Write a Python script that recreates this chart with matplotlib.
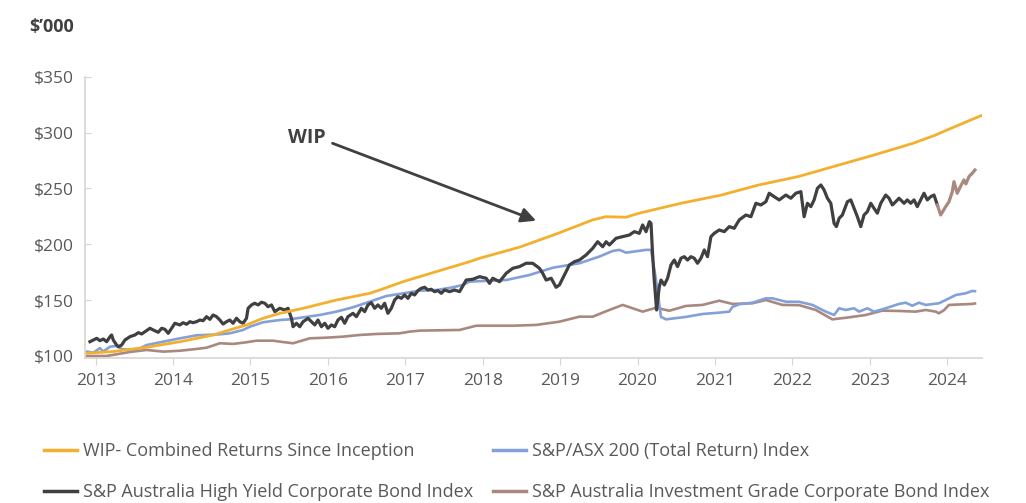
import matplotlib
matplotlib.use("Agg")
import matplotlib.pyplot as plt
from matplotlib.lines import Line2D

plt.rcParams['font.family'] = ['Open Sans', 'DejaVu Sans']

# WIP - combined returns since inception
wip_x = [2012.88, 2013.23, 2013.66, 2014.09, 2014.52, 2014.73, 2014.95, 2015.16, 2015.38,
         2015.68, 2016.11, 2016.54, 2016.67, 2016.97, 2017.40, 2017.83, 2017.96, 2018.48,
         2018.98, 2019.42, 2019.59, 2019.85, 2020.02, 2020.56, 2021.08, 2021.56, 2022.07,
         2023.06, 2023.56, 2023.84, 2024.05, 2024.45]
wip_y = [102.5, 104, 107.8, 112.8, 118.8, 123.3, 127.8, 133.7, 138.2,
         142.7, 150.1, 156.1, 159.1, 166.5, 175.5, 184.4, 187.5, 197.5,
         210, 221.8, 224.7, 224.2, 227.8, 236.7, 244, 253, 260.5,
         280, 290.4, 297.5, 303.8, 315.5]

# S&P/ASX 200 (Total Return) Index
asx_x = [2012.884, 2012.969, 2013.055, 2013.098, 2013.185, 2013.271, 2013.335, 2013.443, 2013.572,
         2013.658, 2013.872, 2014.088, 2014.303, 2014.604, 2014.733, 2014.904, 2014.991, 2015.163,
         2015.378, 2015.507, 2015.679, 2015.894, 2016.110, 2016.324, 2016.539, 2016.755, 2016.969,
         2017.185, 2017.401, 2017.614, 2017.743, 2017.830, 2017.959, 2018.303, 2018.604, 2018.905,
         2019.249, 2019.507, 2019.679, 2019.765, 2019.852, 2020.110, 2020.174, 2020.239, 2020.303,
         2020.368, 2020.626, 2020.840, 2021.055, 2021.185, 2021.227, 2021.314, 2021.485, 2021.658,
         2021.743, 2021.916, 2022.088, 2022.259, 2022.432, 2022.539, 2022.604, 2022.690, 2022.797,
         2022.862, 2022.969, 2023.055, 2023.206, 2023.378, 2023.464, 2023.550, 2023.636, 2023.723,
         2023.894, 2023.981, 2024.110, 2024.239, 2024.323, 2024.359]
asx_y = [103.9, 103, 107, 104, 108.3, 109, 106.3, 105.4, 106.9,
         109.8, 112.8, 115.8, 118.5, 119.4, 120.3, 123.3, 126.2, 130.2,
         132.2, 132.8, 134.6, 136.7, 139.7, 143.6, 148.6, 153.7, 156,
         158.5, 159, 161.5, 163.6, 166.5, 167, 168, 172.5, 179,
         183, 189, 194, 195, 192.5, 195, 195, 168, 135,
         132.8, 135, 137.6, 138.8, 139.7, 144, 146.3, 147.7, 151.6,
         151.6, 148.6, 148.5, 145.7, 139.7, 136.7, 142.7, 141.2, 142.7,
         139.7, 142.7, 139.7, 142.7, 146.6, 147.7, 145, 147.7, 145.7,
         147.2, 150.1, 154.6, 156.1, 158.2, 158]

# S&P Australia High Yield Corporate Bond Index
hy_x = [2012.926, 2012.969, 2013.013, 2013.055, 2013.098, 2013.142, 2013.185, 2013.206, 2013.227,
        2013.271, 2013.292, 2013.335, 2013.378, 2013.443, 2013.507, 2013.550, 2013.594, 2013.658,
        2013.701, 2013.743, 2013.808, 2013.852, 2013.894, 2013.937, 2013.981, 2014.023, 2014.088,
        2014.130, 2014.174, 2014.217, 2014.259, 2014.303, 2014.346, 2014.388, 2014.432, 2014.475,
        2014.517, 2014.561, 2014.604, 2014.646, 2014.690, 2014.733, 2014.775, 2014.819, 2014.862,
        2014.904, 2014.948, 2014.969, 2015.013, 2015.055, 2015.098, 2015.142, 2015.185, 2015.227,
        2015.271, 2015.314, 2015.378, 2015.443, 2015.485, 2015.529, 2015.550, 2015.594, 2015.636,
        2015.679, 2015.743, 2015.787, 2015.830, 2015.872, 2015.916, 2015.959, 2016.001, 2016.045,
        2016.088, 2016.130, 2016.174, 2016.217, 2016.259, 2016.324, 2016.368, 2016.432, 2016.475,
        2016.517, 2016.561, 2016.604, 2016.646, 2016.690, 2016.733, 2016.775, 2016.819, 2016.862,
        2016.904, 2016.948, 2016.991, 2017.034, 2017.077, 2017.120, 2017.163, 2017.206, 2017.249,
        2017.292, 2017.335, 2017.378, 2017.421, 2017.465, 2017.507, 2017.572, 2017.636, 2017.701,
        2017.787, 2017.872, 2017.959, 2018.045, 2018.088, 2018.130, 2018.217, 2018.303, 2018.388,
        2018.475, 2018.561, 2018.646, 2018.733, 2018.775, 2018.819, 2018.884, 2018.948, 2018.991,
        2019.055, 2019.120, 2019.185, 2019.249, 2019.335, 2019.421, 2019.485, 2019.550, 2019.594,
        2019.636, 2019.723, 2019.808, 2019.894, 2019.959, 2020.023, 2020.066, 2020.110, 2020.153,
        2020.174, 2020.194, 2020.216, 2020.246, 2020.281, 2020.303, 2020.346, 2020.388, 2020.432,
        2020.475, 2020.517, 2020.561, 2020.604, 2020.646, 2020.690, 2020.733, 2020.775, 2020.819,
        2020.862, 2020.904, 2020.948, 2020.991, 2021.055, 2021.120, 2021.185, 2021.249, 2021.314,
        2021.400, 2021.465, 2021.529, 2021.594, 2021.658, 2021.701, 2021.765, 2021.830, 2021.916,
        2021.981, 2022.045, 2022.110, 2022.130, 2022.152, 2022.195, 2022.239, 2022.281, 2022.324,
        2022.368, 2022.410, 2022.453, 2022.497, 2022.539, 2022.569, 2022.604, 2022.646, 2022.711,
        2022.755, 2022.797, 2022.840, 2022.884, 2022.926, 2022.969, 2023.013, 2023.055, 2023.098,
        2023.142, 2023.206, 2023.249, 2023.292, 2023.335, 2023.378, 2023.443, 2023.485, 2023.529,
        2023.572, 2023.614, 2023.658, 2023.701, 2023.743, 2023.787, 2023.830, 2023.873]
hy_y = [112.8, 114.3, 115.8, 113.7, 115.2, 112.8, 117.3, 118.8, 114.3,
        109.8, 108.3, 109.8, 114.3, 117.3, 118.8, 120.9, 119.7, 122.7,
        124.8, 123.3, 121.2, 124.8, 123.9, 120.3, 124.8, 129.3, 127.8,
        129.8, 128.4, 130.7, 129.8, 130.7, 132.2, 131.6, 135.2, 132.8,
        136.7, 135.2, 132.2, 128.6, 130.7, 132.2, 129.3, 133.8, 130.7,
        129.3, 133.7, 142.7, 145.7, 147.2, 145.7, 148.1, 147.2, 144.1,
        145.7, 139.7, 142.7, 141.2, 142.7, 133.7, 126.2, 129.3, 126.2,
        130.7, 133.7, 130.7, 127.8, 132.2, 126.2, 129.3, 124.8, 127.8,
        126.2, 132.2, 134.6, 129.3, 135.2, 138.2, 135.2, 142.7, 139.7,
        145.7, 147.7, 142.7, 145.7, 142.7, 147.2, 138.2, 142.7, 150.1,
        153.1, 151.6, 154.6, 151.6, 156.1, 154.6, 158.5, 160.6, 161.5,
        159.1, 159.7, 157.6, 158.5, 156.1, 159.1, 157.6, 159.1, 157.6,
        168, 168.7, 171, 169.6, 165, 169.6, 166.5, 174, 178.5,
        180, 183, 183, 178.5, 174, 168, 169.6, 161.5, 163.6,
        172.5, 181.5, 184.4, 185.9, 190.4, 196.4, 202.3, 197.8, 202.3,
        199.4, 205.4, 206.8, 208.3, 211.3, 209.8, 217.3, 211.3, 220.2,
        218.8, 191.9, 168, 141.2, 162, 168, 163.6, 169.6, 181.5,
        185.9, 180, 187.5, 188.9, 185.9, 188.9, 187.5, 183, 187.5,
        194.9, 188.9, 206.8, 209.8, 212.8, 211.3, 215.8, 214.3, 221.8,
        226.2, 224.7, 236.7, 235.2, 238.1, 245.7, 242.6, 239.7, 244.1,
        241.2, 245.7, 247.1, 236.7, 224.7, 236.7, 233.7, 239.7, 250.1,
        253.1, 248.6, 241.2, 236.7, 218.8, 215.8, 223.2, 226.2, 238.1,
        239.7, 232.2, 224.7, 215.8, 226.2, 229.2, 236.7, 232.2, 227.8,
        236.7, 244.1, 241.2, 235.2, 238.1, 241.2, 236.7, 239.7, 236.7,
        239.7, 233.7, 239.7, 245.7, 239.7, 242.6, 244.1, 235.2]

# latest part of the bond index, drawn in the investment grade colour
hy_tail_x = [2023.873, 2023.916, 2023.981, 2024.023, 2024.066, 2024.088, 2024.130, 2024.174,
             2024.216, 2024.242, 2024.281, 2024.324, 2024.359]
hy_tail_y = [235.2, 226.2, 233.7, 238, 247, 256, 245.7, 252, 257.6, 254, 260.5, 263.6, 266.5]

# S&P Australia Investment Grade Corporate Bond Index
ig_x = [2012.884, 2013.142, 2013.227, 2013.443, 2013.658, 2013.872, 2014.088, 2014.303, 2014.432,
        2014.604, 2014.775, 2014.948, 2015.077, 2015.292, 2015.417, 2015.550, 2015.765, 2015.981,
        2016.191, 2016.410, 2016.626, 2016.927, 2017.056, 2017.185, 2017.701, 2017.916, 2018.388,
        2018.690, 2018.991, 2019.249, 2019.421, 2019.636, 2019.808, 2019.937, 2020.066, 2020.239,
        2020.410, 2020.626, 2020.840, 2021.055, 2021.227, 2021.485, 2021.658, 2021.872, 2022.088,
        2022.303, 2022.517, 2022.733, 2022.948, 2023.162, 2023.378, 2023.594, 2023.723, 2023.852,
        2023.894, 2023.959, 2024.023, 2024.323, 2024.359]
ig_y = [100, 100, 101, 103.6, 105.4, 103.9, 104.7, 106.3, 107.4,
        111.4, 110.8, 112.3, 113.7, 113.7, 112.5, 111.4, 115.8, 116.4,
        117.3, 118.8, 119.7, 120.3, 121.8, 122.7, 123.3, 127.1, 127.1,
        127.8, 130.7, 135.2, 135.2, 141.2, 145.7, 142.7, 139.7, 143.2,
        140.5, 144.8, 145.7, 149.5, 146.6, 147.2, 150.1, 145.7, 145.5,
        141.2, 132.8, 134.6, 136.7, 140.6, 140.3, 139.7, 141.2, 139.7,
        138.2, 141, 145.7, 146.6, 147]

year_ticks = list(range(2013, 2025))
value_ticks = [100, 150, 200, 250, 300, 350]

c_wip = "#f2b02e"
c_asx = "#84a0d8"
c_hy = "#404040"
c_ig = "#a8887f"
grey = "#595959"
axis_col = "#d9d4cf"

fig = plt.figure(figsize=(10.26, 5.03), dpi=100)
ax = fig.add_axes([85 / 1026, 145 / 503, 897 / 1026, 281.3 / 503])

ax.plot(ig_x, ig_y, color=c_ig, lw=1.9)
ax.plot(asx_x, asx_y, color=c_asx, lw=1.9)
ax.plot(hy_x, hy_y, color=c_hy, lw=2.3)
ax.plot(hy_tail_x, hy_tail_y, color=c_ig, lw=2.3)
ax.plot(wip_x, wip_y, color=c_wip, lw=2.0)

ax.set_xlim(2012.862, 2024.45)
ax.set_ylim(98.2, 350)
ax.set_xticks(year_ticks)
ax.set_xticklabels([str(y) for y in year_ticks])
ax.set_yticks(value_ticks)
ax.set_yticklabels([f"${v}" for v in value_ticks])

for s in ["top", "right"]:
    ax.spines[s].set_visible(False)
for s in ["left", "bottom"]:
    ax.spines[s].set_color(axis_col)
    ax.spines[s].set_linewidth(1.2)
ax.tick_params(axis="y", direction="in", length=4, color=axis_col, labelcolor=grey,
               labelsize=12.5, pad=8)
ax.tick_params(axis="x", direction="out", length=5, color=axis_col, labelcolor=grey,
               labelsize=12.5, pad=6)

fig.text(29 / 1026, 1 - 26.7 / 503, "$\u2019000", fontsize=13, fontweight="bold",
         color="#404040", va="center", ha="left")

ax.annotate("", xy=(2018.69, 221.1), xytext=(2016.06, 290.4),
            arrowprops=dict(arrowstyle="-|>", color="#404040", lw=2, mutation_scale=22,
                            shrinkA=0, shrinkB=0))
ax.text(2015.73, 295.4, "WIP", fontsize=14, fontweight="bold", color="#404040",
        ha="center", va="center")

handles = [Line2D([], [], color=c_wip, lw=2.5), Line2D([], [], color=c_hy, lw=2.5),
           Line2D([], [], color=c_asx, lw=2.5), Line2D([], [], color=c_ig, lw=2.5)]
labels = ["WIP- Combined Returns Since Inception",
          "S&P Australia High Yield Corporate Bond Index",
          "S&P/ASX 200 (Total Return) Index",
          "S&P Australia Investment Grade Corporate Bond Index"]
fig.legend(handles, labels, ncol=2, loc="upper left", bbox_to_anchor=(44 / 1026, 1 - 442 / 503),
           frameon=False, fontsize=13, labelcolor=grey, handlelength=1.85, handletextpad=0.3,
           columnspacing=1.1, labelspacing=1.28, borderpad=0, borderaxespad=0)

fig.savefig("out.png", dpi=100)
